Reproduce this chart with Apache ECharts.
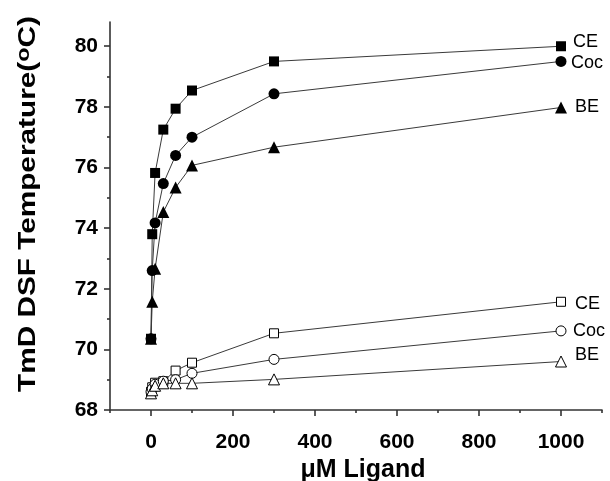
<!DOCTYPE html>
<html><head><meta charset="utf-8">
<script src="https://cdn.jsdelivr.net/npm/echarts@6/dist/echarts.min.js"></script>
<style>html,body{margin:0;padding:0;background:#fff}#c{width:610px;height:481px}</style>
</head><body><div id="c"></div>
<script>
const concentrations = [0, 3, 10, 30, 60, 100, 300, 1000];
const ceFilled  = [70.35, 73.80, 75.82, 77.25, 77.94, 78.54, 79.50, 80.00];
const cocFilled = [70.35, 72.60, 74.17, 75.47, 76.40, 77.00, 78.43, 79.50];
const beFilled  = [70.35, 71.57, 72.66, 74.53, 75.34, 76.07, 76.67, 77.98];
const ceOpen    = [68.60, 68.75, 68.90, 68.95, 69.30, 69.56, 70.53, 71.57];
const cocOpen   = [68.60, 68.70, 68.85, 68.95, 69.00, 69.21, 69.67, 70.61];
const beOpen    = [68.55, 68.65, 68.80, 68.88, 68.88, 68.88, 69.01, 69.60];
const seriesNames = ['CE', 'Coc', 'BE', 'CE', 'Coc', 'BE'];
const xMajorTicks = [0, 200, 400, 600, 800, 1000];
const xMinorTicks = [-100, 100, 300, 500, 700, 900, 1100];
const yMajorTicks = [68, 70, 72, 74, 76, 78, 80];
const yMinorTicks = [69, 71, 73, 75, 77, 79];
const xTitle = 'μM Ligand';
const yTitleMain = 'TmD DSF Temperature(';
const yTitleSup = 'o';
const yTitleEnd = 'C)';

const chart = echarts.init(document.getElementById('c'), null, {renderer: 'canvas'});
const FONT = '"Liberation Sans", Arial, sans-serif';
const pairs = v => concentrations.map((x, i) => [x, v[i]]);
const mk = (name, vals, symbol, size, filled, offset) => ({
  type: 'line', name, data: pairs(vals), symbol, symbolSize: size,
  showAllSymbol: true, animation: false,
  lineStyle: {color: '#3a3a3a', width: 1},
  itemStyle: filled ? {color: '#000', borderColor: '#000', borderWidth: 0}
                    : {color: '#fff', borderColor: '#000', borderWidth: 1},
  endLabel: {show: true, formatter: name, fontFamily: FONT, fontSize: 18, color: '#000', distance: 10, offset: offset},
  z: 3
});
const axisLineStyle = {color: '#333', width: 1.6};
const option = {
  backgroundColor: '#fff',
  animation: false,
  grid: {left: 110, right: 8, top: 22, bottom: 71, containLabel: false, outerBoundsMode: 'none'},
  graphic: [{
    type: 'text', x: 28, y: 204, rotation: Math.PI / 2, scaleX: 1.24, scaleY: 1,
    style: {
      text: yTitleMain + '{s|' + yTitleSup + '}' + yTitleEnd,
      font: 'bold 24px ' + FONT, fill: '#000', align: 'center', verticalAlign: 'middle',
      rich: {s: {font: 'bold 19px ' + FONT, fill: '#000', padding: [0, 0, 9, 0]}}
    }
  }],
  xAxis: [{
    type: 'value', min: -100, max: 1100, position: 'bottom',
    splitLine: {show: false},
    axisLine: {show: true, onZero: false, lineStyle: axisLineStyle},
    axisTick: {show: true, length: 6, lineStyle: axisLineStyle, customValues: xMajorTicks},
    axisLabel: {customValues: xMajorTicks, formatter: v => String(v), fontFamily: FONT, fontWeight: 'bold', fontSize: 21, color: '#000', margin: 22},
    name: xTitle, nameLocation: 'middle', nameGap: 44,
    nameTextStyle: {fontFamily: FONT, fontWeight: 'bold', fontSize: 25, color: '#000', padding: [0, 0, 0, 14]}
  }, {
    type: 'value', min: -100, max: 1100, position: 'bottom',
    splitLine: {show: false},
    axisLine: {show: false, onZero: false},
    axisTick: {show: true, length: 3, lineStyle: axisLineStyle, customValues: xMinorTicks},
    axisLabel: {show: false}
  }],
  yAxis: [{
    type: 'value', min: 68, max: 80.8, position: 'left',
    splitLine: {show: false},
    axisLine: {show: true, onZero: false, lineStyle: axisLineStyle},
    axisTick: {show: true, length: 6, lineStyle: axisLineStyle, customValues: yMajorTicks},
    axisLabel: {customValues: yMajorTicks, fontFamily: FONT, fontWeight: 'bold', fontSize: 21, color: '#000', margin: 12}
  }, {
    type: 'value', min: 68, max: 80.8, position: 'left',
    splitLine: {show: false},
    axisLine: {show: false, onZero: false},
    axisTick: {show: true, length: 3, lineStyle: axisLineStyle, customValues: yMinorTicks},
    axisLabel: {show: false}
  }],
  series: [
    mk(seriesNames[0], ceFilled, 'rect', 10, true, [2, -4]),
    mk(seriesNames[1], cocFilled, 'circle', 11, true, [0, 2]),
    mk(seriesNames[2], beFilled, 'triangle', 12, true, [4, 0]),
    mk(seriesNames[3], ceOpen, 'rect', 9, false, [4, 2]),
    mk(seriesNames[4], cocOpen, 'circle', 10, false, [2, 0]),
    mk(seriesNames[5], beOpen, 'triangle', 11, false, [4, -6])
  ]
};
chart.setOption(option);
</script>
</body></html>
